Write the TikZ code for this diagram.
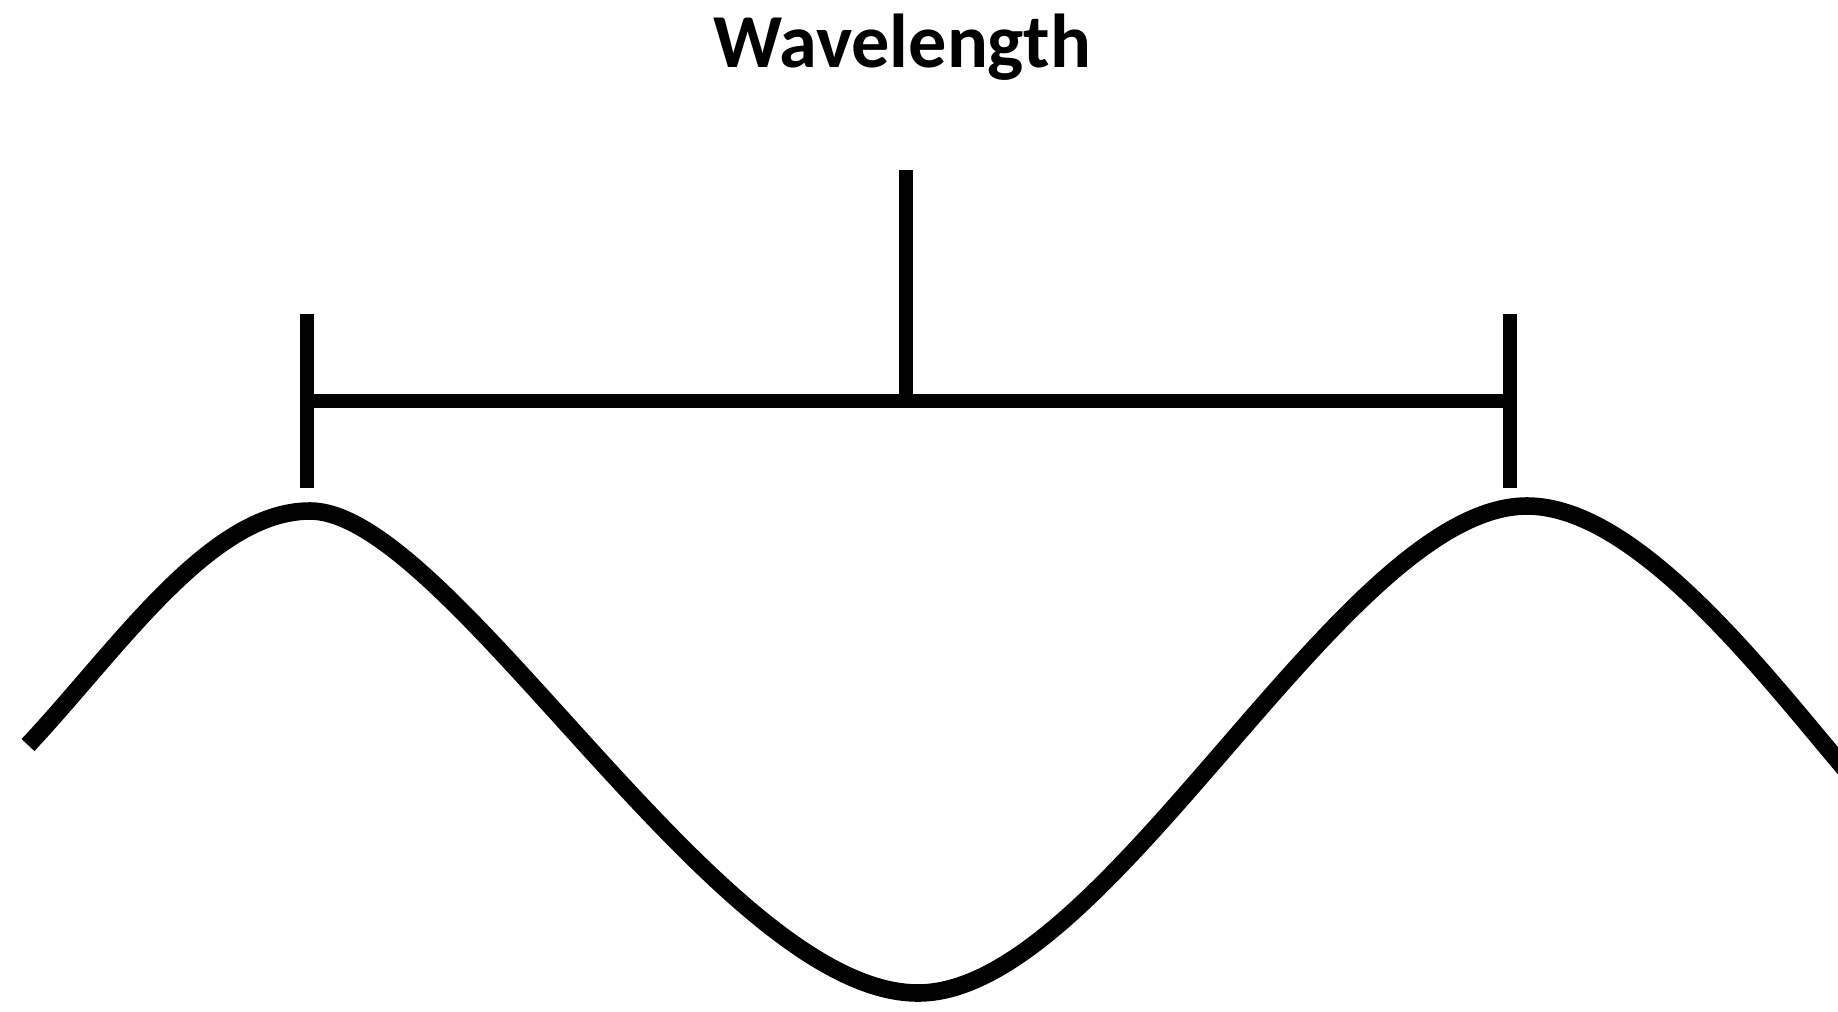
\documentclass[tikz,border=0pt]{standalone}
\usepackage{fontspec}
\setmainfont{Carlito}
\usetikzlibrary{positioning}

\begin{document}
\begin{tikzpicture}[
    x=0.01cm, y=-0.01cm,
    every node/.style={font=\fontsize{21.7}{26}\selectfont\bfseries},
    bar/.style={line width=4.1pt, black},
    wave/.style={line width=5pt, black}
]
    \useasboundingbox (0,0) rectangle (1838,1011);

    \node[anchor=base] (label) at (902,67) {Wavelength};

    \coordinate (lefttop) at (307,314);
    \coordinate (leftbot) at (307,488);
    \coordinate (righttop) at (1510,314);
    \coordinate (rightbot) at (1510,488);
    \coordinate (midtop) at (906,170);
    \coordinate (leftmid) at (307,401);
    \coordinate (rightmid) at (1510,401);
    \coordinate (midbar) at (906,401);

    % bracket
    \draw[bar] (lefttop) -- (leftbot);
    \draw[bar] (righttop) -- (rightbot);
    \draw[bar] (leftmid) -- (rightmid);
    \draw[bar] (midtop) -- (midbar);

    % the wave
    \coordinate (start) at (28,745);
    \coordinate (crest1) at (310,511);
    \coordinate (trough) at (918,993);
    \coordinate (crest2) at (1527,506);
    \coordinate (finish) at (1845,769);
    \draw[wave] (start) .. controls (118,649) and (210,511) .. (crest1)
        .. controls (450,511) and (720,993) .. (trough)
        .. controls (1108,993) and (1342,506) .. (crest2)
        .. controls (1637,506) and (1765,675) .. (finish);
\end{tikzpicture}
\end{document}
